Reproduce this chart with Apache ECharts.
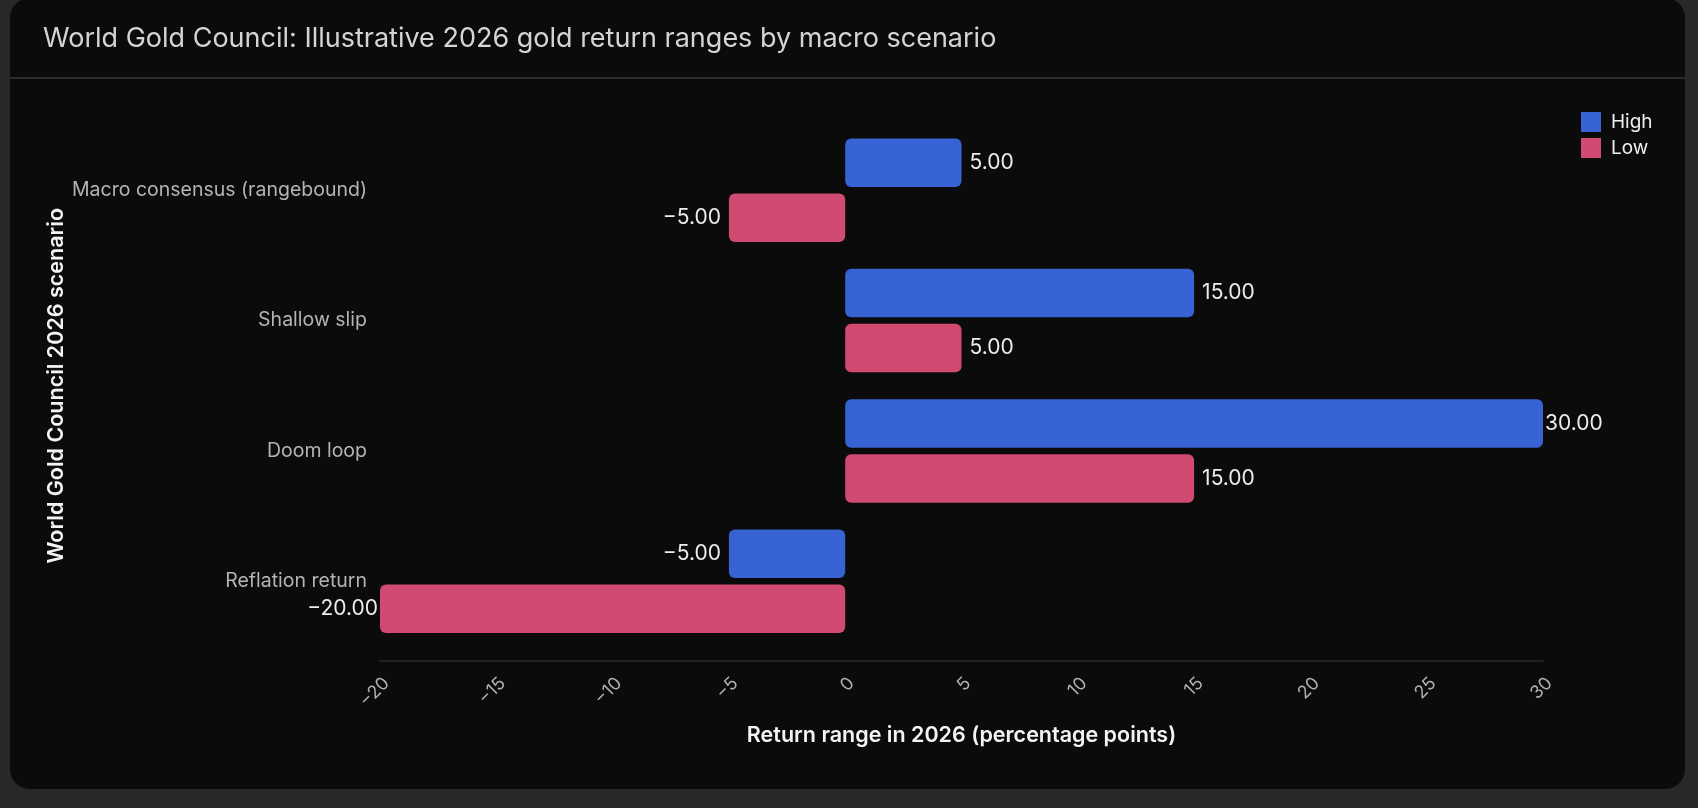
<!DOCTYPE html>
<html>
<head>
<meta charset="utf-8">
<script src="https://cdn.jsdelivr.net/npm/echarts@6/dist/echarts.min.js"></script>
<style>
  html, body { margin: 0; padding: 0; width: 1698px; height: 808px; background: #28282a; overflow: hidden; }
  #card { position: absolute; left: 10px; top: -2px; width: 1675px; height: 791px; background: #0b0b0b; border-radius: 20px; }
  #sep { position: absolute; left: 10px; top: 77px; width: 1675px; height: 2px; background: #2c2c2e; }
  #chart { position: absolute; left: 0; top: 0; width: 1698px; height: 808px; }
</style>
</head>
<body>
<div id="card"></div>
<div id="sep"></div>
<div id="chart"></div>
<script>
const chartTitle = "World Gold Council: Illustrative 2026 gold return ranges by macro scenario";
const categories = ["Macro consensus (rangebound)", "Shallow slip", "Doom loop", "Reflation return"];
const seriesNames = ["High", "Low"];
const highValues = [5, 15, 30, -5];
const lowValues = [-5, 5, 15, -20];
const xMin = -20, xMax = 30, xStep = 5;
const xAxisTitle = "Return range in 2026 (percentage points)";
const yAxisTitle = "World Gold Council 2026 scenario";
const colors = ["#3863d4", "#d14a72"];

const FONT = "Inter, 'Noto Sans', sans-serif";
const minus = s => String(s).replace('-', '\u2212');

function buildData(vals) {
  return vals.map(v => {
    const atEdge = (v === xMax || v === xMin);
    return {
      value: v,
      label: { position: v < 0 ? 'left' : 'right', distance: atEdge ? 2 : 8 }
    };
  });
}

const chart = echarts.init(document.getElementById('chart'), null, { renderer: 'canvas' });
chart.setOption({
  backgroundColor: 'transparent',
  animation: false,
  textStyle: { fontFamily: FONT },
  title: {
    text: chartTitle,
    left: 43, top: 25, padding: 0,
    textStyle: { color: '#d4d4d4', fontSize: 27, fontWeight: 'normal', fontFamily: FONT }
  },
  legend: {
    orient: 'vertical',
    left: 1581, top: 112, padding: 0,
    itemWidth: 20, itemHeight: 20, itemGap: 6,
    icon: 'rect',
    data: seriesNames,
    textStyle: { color: '#eeeeee', fontSize: 19, fontFamily: FONT, padding: [0, 0, 0, 5] }
  },
  grid: { left: 380, right: 155, top: 125, bottom: 161.5, containLabel: false },
  xAxis: {
    type: 'value',
    min: xMin, max: xMax, interval: xStep,
    offset: 14.5,
    name: xAxisTitle,
    nameLocation: 'middle',
    nameGap: 64,
    nameMoveOverlap: false,
    nameTextStyle: { color: '#f4f4f4', fontSize: 21.5, fontWeight: 600, fontFamily: FONT },
    axisLine: { show: true, lineStyle: { color: '#222224', width: 2 } },
    axisTick: { show: false },
    splitLine: { show: false },
    axisLabel: {
      rotate: 45, align: 'right', verticalAlign: 'top', margin: 13,
      color: '#b0b0b0', fontSize: 18, fontFamily: FONT,
      formatter: v => minus(v)
    }
  },
  yAxis: {
    type: 'category',
    inverse: true,
    data: categories,
    name: yAxisTitle,
    nameLocation: 'middle',
    nameRotate: 90,
    nameGap: 312,
    nameMoveOverlap: false,
    nameTextStyle: { color: '#f4f4f4', fontSize: 21.5, fontWeight: 600, fontFamily: FONT },
    axisLine: { show: false },
    axisTick: { show: false },
    splitLine: { show: false },
    axisLabel: { color: '#b4b4b4', fontSize: 19.5, margin: 13, fontFamily: FONT }
  },
  series: [
    {
      name: seriesNames[0], type: 'bar',
      data: buildData(highValues),
      barWidth: 48.5, barGap: '13.4%',
      itemStyle: { color: colors[0], borderRadius: 6 },
      label: { show: true, color: '#ececec', fontSize: 21, fontFamily: FONT, formatter: p => minus(p.value.toFixed(2)) }
    },
    {
      name: seriesNames[1], type: 'bar',
      data: buildData(lowValues),
      barWidth: 48.5, barGap: '13.4%',
      itemStyle: { color: colors[1], borderRadius: 6 },
      label: { show: true, color: '#ececec', fontSize: 21, fontFamily: FONT, formatter: p => minus(p.value.toFixed(2)) }
    }
  ]
});
</script>
</body>
</html>
